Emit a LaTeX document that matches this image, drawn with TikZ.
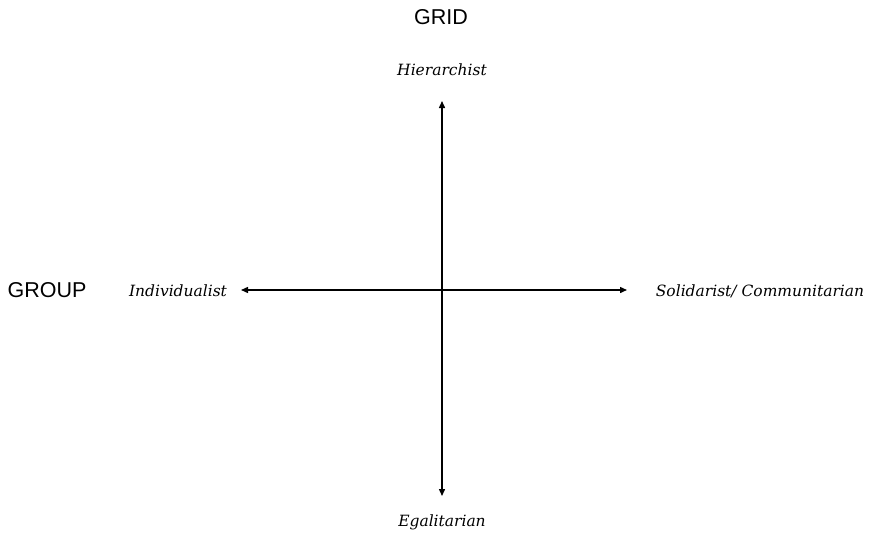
\documentclass[tikz,border=0pt]{standalone}
\usepackage{fontspec}
\setmainfont{Liberation Sans}
\newfontfamily\labfont{DejaVu Serif}
\usetikzlibrary{arrows.meta}
\tikzset{
  axis/.style={line width=1.4pt, {Triangle[length=7pt,width=6pt]}-{Triangle[length=7pt,width=6pt]}},
  pole/.style={font=\labfont\itshape\fontsize{15.5}{18}\selectfont, inner sep=0pt},
  dim/.style={font=\fontsize{21.5}{24}\selectfont, inner sep=0pt}
}
\begin{document}
\begin{tikzpicture}[x=1pt,y=-1pt]
\useasboundingbox (0,0) rectangle (873,535);
\node[dim] (grid) at (441,17) {GRID};
\node[dim] (group) at (47,290) {GROUP};
\node[pole] (hier) at (442,70) {Hierarchist};
\node[pole] (egal) at (442,522) {Egalitarian};
\node[pole] (ind) at (178,291) {Individualist};
\node[pole] (sol) at (760,291) {Solidarist/ Communitarian};
\coordinate (top) at (442,101);
\coordinate (bot) at (442,496);
\coordinate (lft) at (241,290);
\coordinate (rgt) at (627,290);
\draw[axis] (bot) -- (top);
\draw[axis] (lft) -- (rgt);
\end{tikzpicture}
\end{document}
